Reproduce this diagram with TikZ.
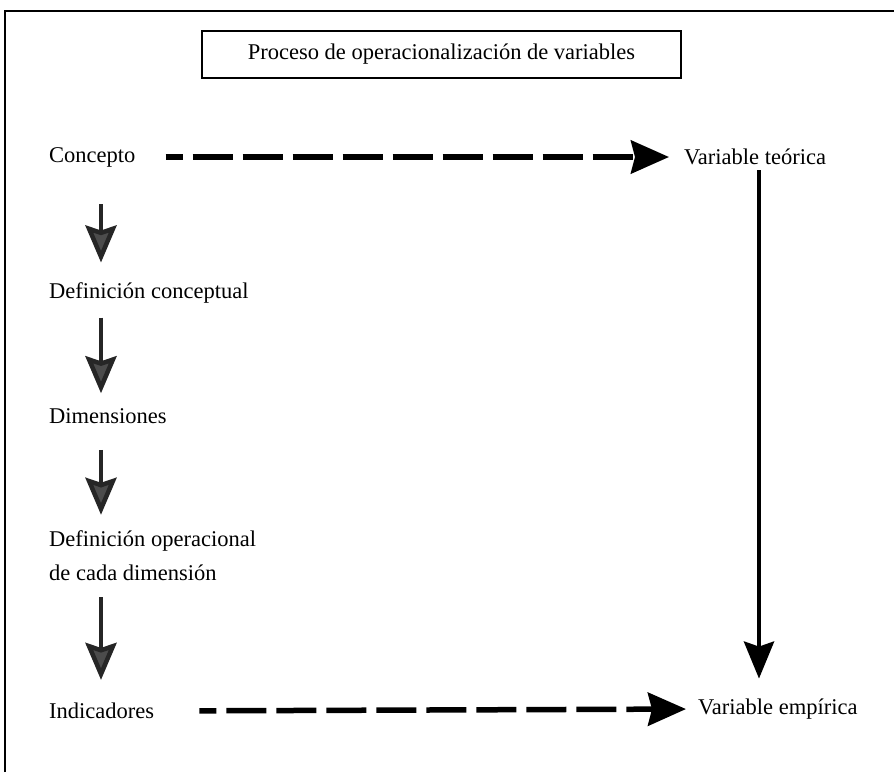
\documentclass[tikz,border=0pt]{standalone}
\usepackage{fontspec}
\setmainfont{Liberation Serif}
\usetikzlibrary{arrows.meta}
\tikzset{
  lbl/.style={anchor=west, inner sep=0pt, font=\fontsize{22.5}{34}\selectfont, align=left},
  titlebox/.style={draw, line width=1.4pt, minimum width=479pt, minimum height=47pt, inner sep=0pt, font=\fontsize{22.5}{34}\selectfont},
  dasharrow/.style={line width=5.5pt, dash pattern=on 40pt off 10pt, dash phase=23pt, -{Stealth[length=38pt,width=33pt,inset=4pt]}},
  varrowgray/.style={line width=4.5pt, draw=black!85, -{Stealth[length=37pt,width=31pt,inset=5pt,fill=black!70]}},
  varrow/.style={line width=4.5pt, draw=black, -{Stealth[length=37pt,width=30pt,inset=5pt]}},
}
\begin{document}
\begin{tikzpicture}[x=1pt,y=-1pt]
\useasboundingbox (0,0) rectangle (894,772);
\draw[line width=2pt] (5,772) -- (5,11) -- (894,11);
\node[titlebox] (title) at (441.5,54.5) {Proceso de operacionalización de variables};
\node[lbl] (concepto) at (49,157) {Concepto};
\node[lbl] (teorica) at (684,157) {Variable teórica};
\node[lbl] (defcon) at (49,293) {Definición conceptual};
\node[lbl] (dim) at (49,416) {Dimensiones};
\node[lbl] (defop) at (49,556) {Definición operacional\\de cada dimensión};
\node[lbl] (ind) at (49,711) {Indicadores};
\node[lbl] (emp) at (698,709) {Variable empírica};
\draw[dasharrow, shorten <=30pt, shorten >=15pt] (concepto.east) -- (teorica.west);
\draw[dasharrow, shorten <=45pt, shorten >=12pt] (ind.east) -- (emp.west);
\draw[varrowgray, shorten <=37pt, shorten >=20pt] ([xshift=52pt]concepto.south west) -- ([xshift=52pt]defcon.north west);
\draw[varrowgray, shorten <=14pt, shorten >=15pt] ([xshift=52pt]defcon.south west) -- ([xshift=52pt]dim.north west);
\draw[varrowgray, shorten <=26pt, shorten >=16pt] ([xshift=52pt]dim.south west) -- ([xshift=52pt]defop.north west);
\draw[varrowgray, shorten <=16pt, shorten >=23pt] ([xshift=52pt]defop.south west) -- ([xshift=52pt]ind.north west);
\draw[varrow, shorten <=5pt, shorten >=20pt] ([xshift=75pt]teorica.south west) -- ([xshift=61pt]emp.north west);
\end{tikzpicture}
\end{document}
